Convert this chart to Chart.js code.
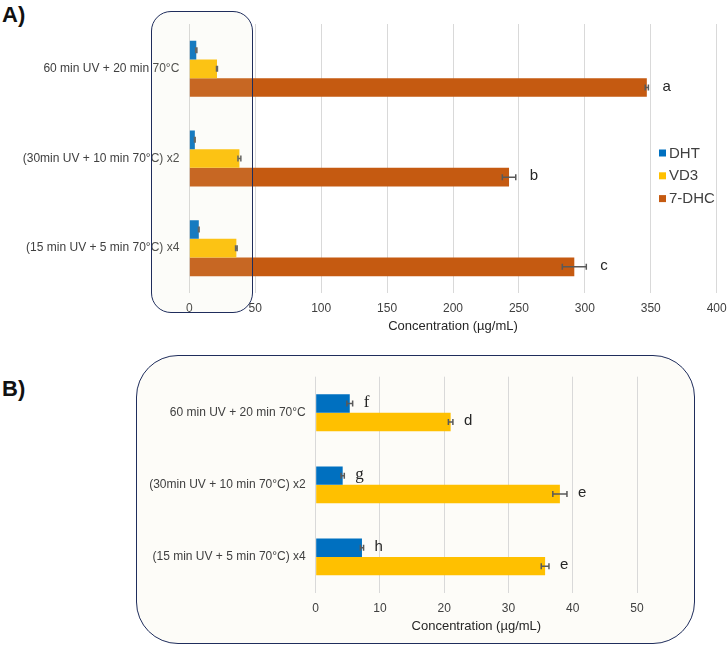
<!DOCTYPE html>
<html><head><meta charset="utf-8">
<script src="https://cdn.jsdelivr.net/npm/chart.js@4.4.1/dist/chart.umd.min.js"></script>
<style>
html,body{margin:0;padding:0;background:#fff;}
#wrap{position:relative;width:728px;height:646px;overflow:hidden;font-family:"Liberation Sans",Arial,sans-serif;}
canvas{position:absolute;left:0;}
#cA{top:0;z-index:1}
#cB{top:335px;z-index:1}
.boxA{position:absolute;left:151px;top:11px;width:102px;height:302px;box-sizing:border-box;border:1.6px solid #1f2d5c;border-radius:20px;background:rgba(230,225,195,0.1);z-index:2;}
.boxB{position:absolute;left:136px;top:355px;width:559px;height:289px;box-sizing:border-box;border:1.6px solid #1f2d5c;border-radius:42px;background:#fdfcf8;z-index:0;}
.lab{position:absolute;left:2px;font-weight:bold;font-size:22px;color:#111;line-height:1;}
</style></head>
<body><div id="wrap">
<div class="lab" style="top:4px">A)</div>
<div class="lab" style="top:378px">B)</div>
<div class="boxB"></div>
<canvas id="cA" width="728" height="335"></canvas>
<canvas id="cB" width="728" height="311"></canvas>
<div class="boxA"></div>
</div>
<script>
// ---- data ----
const categories = ['60 min UV + 20 min 70°C', '(30min UV + 10 min 70°C) x2', '(15 min UV + 5 min 70°C) x4'];
const seriesNames = ['DHT', 'VD3', '7-DHC'];
const dhtValues = [5.3, 4.2, 7.2];
const dhtErrors = [0.45, 0.25, 0.25];
const vd3Values = [21.0, 38.0, 35.7];
const vd3Errors = [0.35, 1.1, 0.6];
const dhcValues = [347, 242.5, 292];
const dhcErrors = [1.2, 5.1, 9.1];
const lettersDHC = ['a', 'b', 'c'];
const lettersDHT_B = ['f', 'g', 'h'];
const lettersVD3_B = ['d', 'e', 'e'];
const ticksA = {min: 0, max: 400, step: 50};
const ticksB = {min: 0, max: 50, step: 10};
const axisTitle = 'Concentration (µg/mL)';

const colors = ['#0070C0', '#FFC000', '#C55A11'];
const FONT = '"Liberation Sans", Arial, sans-serif';
const SERIF = '"Liberation Serif", "Times New Roman", serif';
const serifLetters = ['f', 'g'];

function errorPlugin(errs) {
  return {
    id: 'errbars',
    afterDatasetsDraw(chart) {
      const ctx = chart.ctx, xs = chart.scales.x;
      ctx.save();
      ctx.strokeStyle = '#595959';
      ctx.lineWidth = 1.5;
      chart.data.datasets.forEach((ds, di) => {
        const meta = chart.getDatasetMeta(di);
        const e = errs[di];
        meta.data.forEach((bar, i) => {
          const v = ds.data[i];
          const x1 = xs.getPixelForValue(v - e[i]);
          const x2 = xs.getPixelForValue(v + e[i]);
          const y = bar.y;
          ctx.beginPath();
          ctx.moveTo(x1, y); ctx.lineTo(x2, y);
          ctx.moveTo(x1, y - 3); ctx.lineTo(x1, y + 3);
          ctx.moveTo(x2, y - 3); ctx.lineTo(x2, y + 3);
          ctx.stroke();
        });
      });
      ctx.restore();
    }
  };
}

function letterPlugin(letterSets, errs, gap) {
  return {
    id: 'letters',
    afterDatasetsDraw(chart) {
      const ctx = chart.ctx, xs = chart.scales.x;
      ctx.save();
      ctx.fillStyle = '#262626';
      ctx.textAlign = 'left';
      ctx.textBaseline = 'middle';
      chart.data.datasets.forEach((ds, di) => {
        const letters = letterSets[di];
        if (!letters) return;
        const meta = chart.getDatasetMeta(di);
        meta.data.forEach((bar, i) => {
          const L = letters[i];
          const serif = serifLetters.includes(L);
          ctx.font = serif ? '17px ' + SERIF : '15px ' + FONT;
          const x = xs.getPixelForValue(ds.data[i] + errs[di][i]) + gap;
          ctx.fillText(L, x, bar.y - 1);
        });
      });
      ctx.restore();
    }
  };
}

const legendPlugin = {
  id: 'customLegend',
  afterDraw(chart) {
    const ctx = chart.ctx;
    ctx.save();
    ctx.font = '15px ' + FONT;
    ctx.textBaseline = 'middle';
    ctx.textAlign = 'left';
    chart.data.datasets.forEach((ds, i) => {
      const y = 153 + i * 22.8;
      ctx.fillStyle = ds.backgroundColor;
      ctx.fillRect(659, y - 3.5, 7, 7);
      ctx.fillStyle = '#404040';
      ctx.fillText(ds.label, 669, y + 0.5);
    });
    ctx.restore();
  }
};

function baseOptions(tk, leftW, padRight, padTop, xH, titlePadBottom) {
  return {
    responsive: false,
    animation: false,
    indexAxis: 'y',
    devicePixelRatio: 1,
    layout: {padding: {left: 0, right: padRight, top: padTop, bottom: 0}},
    plugins: {legend: {display: false}, tooltip: {enabled: false}},
    scales: {
      x: {
        min: tk.min, max: tk.max,
        ticks: {stepSize: tk.step, color: '#404040', font: {family: FONT, size: 12}, padding: 8},
        grid: {color: '#d9d9d9', lineWidth: 1, drawTicks: false},
        border: {display: false},
        title: {display: true, text: axisTitle, color: '#262626', font: {family: FONT, size: 13}, padding: {top: 0, bottom: titlePadBottom}},
        afterFit(s) { s.height = xH; s.paddingLeft = 0; s.paddingRight = 0; }
      },
      y: {
        ticks: {color: '#404040', font: {family: FONT, size: 12}, padding: 10},
        grid: {display: false, drawTicks: false},
        border: {display: false},
        afterFit(s) { s.width = leftW; }
      }
    }
  };
}

// Chart A
const optA = baseOptions(ticksA, 189.3, 11.3, 24, 42, 1.2);
new Chart(document.getElementById('cA'), {
  type: 'bar',
  data: {
    labels: categories,
    datasets: [
      {label: seriesNames[0], data: dhtValues, backgroundColor: colors[0], borderWidth: 0, categoryPercentage: 0.625, barPercentage: 1},
      {label: seriesNames[1], data: vd3Values, backgroundColor: colors[1], borderWidth: 0, categoryPercentage: 0.625, barPercentage: 1},
      {label: seriesNames[2], data: dhcValues, backgroundColor: colors[2], borderWidth: 0, categoryPercentage: 0.625, barPercentage: 1}
    ]
  },
  options: optA,
  plugins: [errorPlugin([dhtErrors, vd3Errors, dhcErrors]), letterPlugin([null, null, lettersDHC], [dhtErrors, vd3Errors, dhcErrors], 14), legendPlugin]
});

// Chart B
const optB = baseOptions(ticksB, 315.7, 91, 41.7, 53, 12.2);
new Chart(document.getElementById('cB'), {
  type: 'bar',
  data: {
    labels: categories,
    datasets: [
      {label: seriesNames[0], data: dhtValues, backgroundColor: colors[0], borderWidth: 0, categoryPercentage: 0.51, barPercentage: 1},
      {label: seriesNames[1], data: vd3Values, backgroundColor: colors[1], borderWidth: 0, categoryPercentage: 0.51, barPercentage: 1}
    ]
  },
  options: optB,
  plugins: [errorPlugin([dhtErrors, vd3Errors]), letterPlugin([lettersDHT_B, lettersVD3_B], [dhtErrors, vd3Errors], 11)]
});
</script>
</body></html>
